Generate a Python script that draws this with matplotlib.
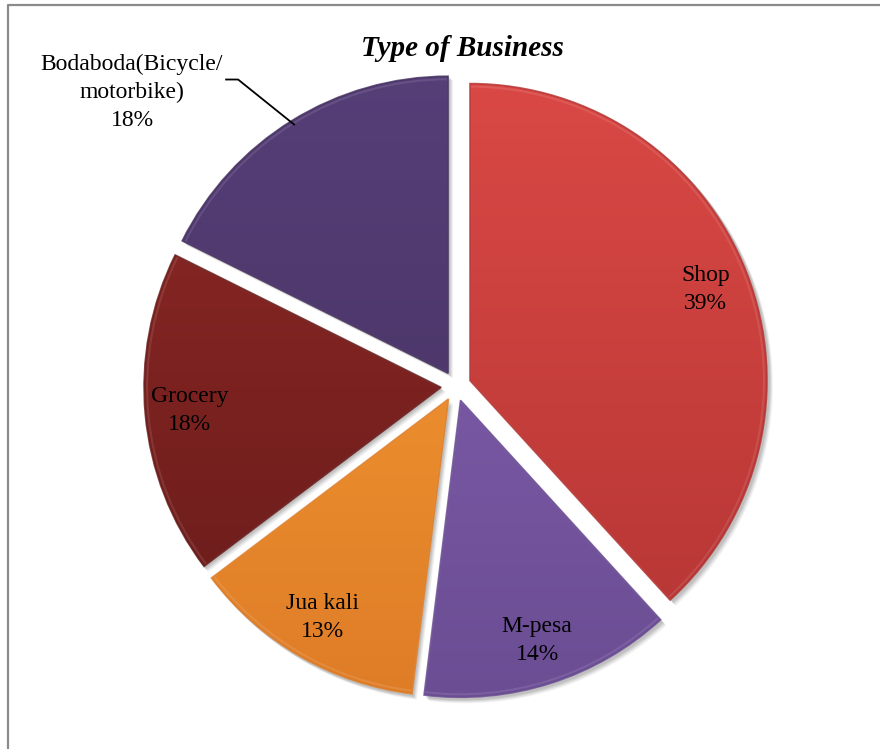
import numpy as np
import matplotlib
matplotlib.use("Agg")
import matplotlib.pyplot as plt
from matplotlib.colors import LinearSegmentedColormap, to_rgb
from matplotlib.patches import Wedge
from matplotlib.lines import Line2D

# Survey shares by type of business
categories = ["Shop", "M-pesa", "Jua kali", "Grocery", "Bodaboda(Bicycle/\nmotorbike)"]
shares = [39, 14, 13, 18, 18]
top_colors = ["#DB4945", "#8762B2", "#F9A035", "#902926", "#563F78"]
bottom_colors = ["#B23433", "#6A4D93", "#DE7C27", "#661B1A", "#432F5D"]
title = "Type of Business"

W, H = 880, 749
fig = plt.figure(figsize=(W / 100, H / 100), dpi=100)
ax = fig.add_axes([0, 0, 1, 1])

serif = ["Liberation Serif", "DejaVu Serif"]
center = (456, 363)
radius = 297
gap = 15  # explode offset in data units

wedges, _ = ax.pie(shares, center=center, radius=radius, startangle=90,
                   counterclock=False, explode=[gap] * len(shares),
                   colors=top_colors, frame=True,
                   wedgeprops=dict(linewidth=0))
ax.set_xlim(0, W)
ax.set_ylim(0, H)
ax.set_aspect("equal")
ax.axis("off")

# soft drop shadows behind each slice
for w in wedges:
    cx, cy = w.center
    for dx, a in [(5, 0.05), (4, 0.06), (3, 0.08), (2, 0.08)]:
        sh = Wedge((cx + dx, cy - dx), w.r + 1, w.theta1, w.theta2,
                   facecolor="black", alpha=a, linewidth=0, zorder=0.5)
        ax.add_patch(sh)

# vertical colour gradient for each slice, clipped to its wedge
ytop = center[1] + radius + 30
ybot = center[1] - radius - 30
grad = np.linspace(0, 1, 256).reshape(-1, 1)
for w, ct, cb in zip(wedges, top_colors, bottom_colors):
    cmap = LinearSegmentedColormap.from_list("g", [to_rgb(ct), to_rgb(cb)])
    im = ax.imshow(grad, cmap=cmap, aspect="auto",
                   extent=(center[0] - radius - 40, center[0] + radius + 40, ybot, ytop),
                   origin="upper", zorder=1, interpolation="bilinear")
    im.set_clip_path(w)
    # light bevel just inside the outline, darker rim on the outline itself
    inner = Wedge(w.center, w.r - 3, w.theta1, w.theta2, facecolor="none",
                  edgecolor="white", linewidth=1.5, alpha=0.10, zorder=1.4)
    ax.add_patch(inner)
    rim = Wedge(w.center, w.r, w.theta1, w.theta2, facecolor="none",
                edgecolor=cb, linewidth=1.2, alpha=0.8, zorder=1.5)
    ax.add_patch(rim)
    w.set_visible(False)
ax.set_xlim(0, W)
ax.set_ylim(0, H)

# data labels inside slices (except the outside one)
label_r = 0.85
fs = 17
for i, (w, cat, v) in enumerate(zip(wedges, categories, shares)):
    mid = np.deg2rad((w.theta1 + w.theta2) / 2)
    cx, cy = w.center
    txt = f"{cat}\n{v}%"
    if i < len(shares) - 1:
        x = cx + label_r * radius * np.cos(mid)
        y = cy + label_r * radius * np.sin(mid)
        ax.text(x, y, txt, ha="center", va="center", fontsize=fs,
                family=serif, linespacing=1.45, zorder=3)
    else:
        # label placed outside with a leader line
        ex = cx + radius * 0.985 * np.cos(mid)
        ey = cy + radius * 0.985 * np.sin(mid)
        elbow = (ex - 56, ey + 45)
        end = (elbow[0] - 12, elbow[1])
        ax.add_line(Line2D([ex, elbow[0], end[0]], [ey, elbow[1], end[1]],
                           color="black", linewidth=1.3, zorder=3))
        ax.text(end[0] - 94, end[1] - 13, txt, ha="center", va="center",
                fontsize=fs, family=serif, linespacing=1.45, zorder=3,
                multialignment="center")

ax.text(462, H - 48, title, ha="center", va="center", fontsize=21,
        family=serif, fontweight="bold", fontstyle="italic", zorder=3)

# chart area border
ax.add_line(Line2D([8, 8, W], [0, H - 5, H - 5], color="#8A8A8A",
                   linewidth=1.6, zorder=4))

fig.savefig("out.png", dpi=100)
